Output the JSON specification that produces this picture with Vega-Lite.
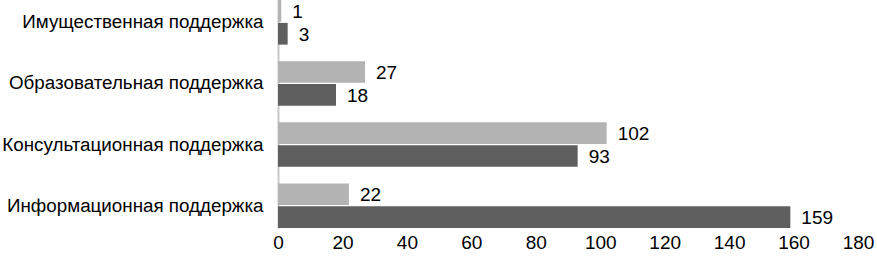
{
  "$schema": "https://vega.github.io/schema/vega-lite/v6.json",
  "width": 580,
  "height": 228,
  "autosize": "none",
  "padding": {"left": 278, "top": 0, "right": 19, "bottom": 35},
  "background": "white",
  "config": {
    "view": {"stroke": null},
    "font": "Liberation Sans"
  },
  "data": {
    "values": [
      {"category": "Имущественная поддержка", "series": "Ряд 1", "value": 1},
      {"category": "Имущественная поддержка", "series": "Ряд 2", "value": 3},
      {"category": "Образовательная поддержка", "series": "Ряд 1", "value": 27},
      {"category": "Образовательная поддержка", "series": "Ряд 2", "value": 18},
      {"category": "Консультационная поддержка", "series": "Ряд 1", "value": 102},
      {"category": "Консультационная поддержка", "series": "Ряд 2", "value": 93},
      {"category": "Информационная поддержка", "series": "Ряд 1", "value": 22},
      {"category": "Информационная поддержка", "series": "Ряд 2", "value": 159}
    ]
  },
  "encoding": {
    "y": {
      "field": "category",
      "type": "nominal",
      "sort": ["Имущественная поддержка", "Образовательная поддержка", "Консультационная поддержка", "Информационная поддержка"],
      "scale": {"paddingInner": 0.27, "paddingOuter": 0.0},
      "axis": {
        "title": null,
        "ticks": false,
        "domain": true,
        "domainColor": "#c8c8c8",
        "domainWidth": 2,
        "labelFontSize": 18.8,
        "labelColor": "#000000",
        "labelPadding": 15,
        "labelLimit": 300,
        "grid": false
      }
    },
    "yOffset": {"field": "series", "type": "nominal", "sort": ["Ряд 1", "Ряд 2"], "scale": {"paddingInner": 0.05}},
    "x": {
      "field": "value",
      "type": "quantitative",
      "scale": {"domain": [0, 180], "nice": false},
      "axis": {
        "title": null,
        "values": [0, 20, 40, 60, 80, 100, 120, 140, 160, 180],
        "grid": false,
        "domain": false,
        "ticks": false,
        "labelFontSize": 19,
        "labelColor": "#000000",
        "labelPadding": 5,
        "labelFlush": false
      }
    }
  },
  "layer": [
    {
      "mark": {"type": "bar"},
      "encoding": {
        "color": {
          "field": "series",
          "type": "nominal",
          "scale": {"domain": ["Ряд 1", "Ряд 2"], "range": ["#b3b3b3", "#5f5f5f"]},
          "legend": null
        }
      }
    },
    {
      "mark": {"type": "text", "align": "left", "baseline": "middle", "dx": 11, "dy": 1, "fontSize": 19, "color": "#000000"},
      "encoding": {
        "text": {"field": "value", "type": "quantitative"}
      }
    }
  ]
}
